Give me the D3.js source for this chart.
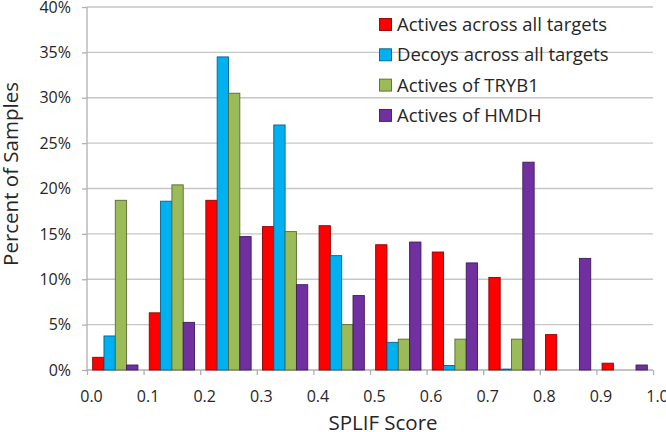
<!DOCTYPE html>
<html>
<head>
<meta charset="utf-8">
<script src="https://cdn.jsdelivr.net/npm/d3@7"></script>
<style>
    body { margin: 0; background: #fff; }
    svg { display: block; font-family: "Open Sans", sans-serif; }
</style>
</head>
<body>
<div id="chart"></div>
<script>
// bins (lower edge of each SPLIF score bin)
const bins = [0.0, 0.1, 0.2, 0.3, 0.4, 0.5, 0.6, 0.7, 0.8, 0.9];
const seriesNames = ["Actives across all targets", "Decoys across all targets", "Actives of TRYB1", "Actives of HMDH"];
const seriesColors = ["#FF0000", "#00B0F0", "#9BBB59", "#7030A0"];

// percent of samples per bin
const activesAll = [1.4, 6.3, 18.7, 15.8, 15.9, 13.8, 13.0, 10.2, 3.9, 0.75];
const decoysAll  = [3.75, 18.6, 34.5, 27.0, 12.6, 3.05, 0.5, 0.1, 0, 0];
const activesTRYB1 = [18.7, 20.4, 30.5, 15.25, 5.0, 3.4, 3.4, 3.4, 0, 0];
const activesHMDH  = [0.55, 5.25, 14.7, 9.4, 8.2, 14.1, 11.8, 22.9, 12.3, 0.55];

const xTicks = [0.0, 0.1, 0.2, 0.3, 0.4, 0.5, 0.6, 0.7, 0.8, 0.9, 1.0];
const yTicks = [0, 5, 10, 15, 20, 25, 30, 35, 40];

const seriesValues = [activesAll, decoysAll, activesTRYB1, activesHMDH];

let margin = { top: 7, right: 13, bottom: 62, left: 87 };
let width = 666 - margin.left - margin.right;
let height = 432 - margin.top - margin.bottom;

let svg = d3.select("#chart").append("svg")
    .attr("width", 666)
    .attr("height", 432)
    .append("g")
    .attr("transform", "translate(" + margin.left + "," + margin.top + ")");

// scales
let x = d3.scaleLinear().domain([0, 1]).range([0, width]);
let xBin = d3.scaleBand().domain(bins.map((d, i) => i)).range([0, width])
    .paddingInner(0.2).paddingOuter(0.1);
let xSeries = d3.scaleBand().domain(seriesNames.map((d, i) => i)).range([0, xBin.bandwidth()]);
let y = d3.scaleLinear().domain([0, 40]).range([height, 0]);

// gridlines
svg.append("g")
    .selectAll("line")
    .data(yTicks.slice(1))
    .enter().append("line")
    .attr("x1", 0).attr("x2", width)
    .attr("y1", d => y(d)).attr("y2", d => y(d))
    .style("stroke", "#c6c6c6")
    .style("stroke-width", "1.3px");

// y axis
let yAxis = svg.append("g")
    .call(d3.axisLeft(y).tickValues(yTicks).tickSize(5).tickPadding(11).tickFormat(d => d + "%"));
// x axis
let xAxis = svg.append("g")
    .attr("transform", "translate(0," + height + ")")
    .call(d3.axisBottom(x).tickValues(xTicks).tickSize(5).tickPadding(16).tickFormat(d3.format(".1f")));

svg.selectAll(".domain, .tick line")
    .style("stroke", "#b0b0b0")
    .style("stroke-width", "1.3px");
yAxis.select(".domain").attr("d", "M0," + height + "V0");
xAxis.select(".domain").attr("d", "M0,0H" + width);

svg.selectAll(".tick text")
    .style("font-size", "16px")
    .style("fill", "#262626")
    .style("font-family", "'Open Sans', sans-serif");
xAxis.selectAll(".tick text").attr("dx", 4);

// bars
let rows = [];
seriesValues.forEach((vals, s) => {
    vals.forEach((v, b) => { if (v > 0) rows.push({ s: s, b: b, v: v }); });
});

svg.append("g")
    .selectAll("rect")
    .data(rows)
    .enter().append("rect")
    .attr("x", d => xBin(d.b) + xSeries(d.s))
    .attr("width", xSeries.bandwidth())
    .attr("y", d => y(d.v))
    .attr("height", d => y(0) - y(d.v))
    .style("fill", d => seriesColors[d.s])
    .style("stroke", d => d3.color(seriesColors[d.s]).darker(1.6))
    .style("stroke-width", "0.9px");

// axis titles
svg.append("text")
    .attr("x", 296)
    .attr("y", height + 60)
    .attr("text-anchor", "middle")
    .style("font-size", "20.5px")
    .style("fill", "#262626")
    .text("SPLIF Score");

svg.append("text")
    .attr("transform", "translate(" + (18 - margin.left) + "," + (174 - margin.top) + ") rotate(-90)")
    .attr("text-anchor", "middle")
    .style("font-size", "20.5px")
    .style("fill", "#262626")
    .text("Percent of Samples");

// legend
let legend = svg.append("g")
    .attr("transform", "translate(" + (379 - margin.left) + "," + (31 - margin.top) + ")");

let items = legend.selectAll("g")
    .data(seriesNames)
    .enter().append("g")
    .attr("transform", (d, i) => "translate(0," + (i * 30.3) + ")");

items.append("rect")
    .attr("x", 0.5).attr("y", -12.5)
    .attr("width", 12).attr("height", 12)
    .style("fill", (d, i) => seriesColors[i])
    .style("stroke", (d, i) => d3.color(seriesColors[i]).darker(1.6))
    .style("stroke-width", "0.9px");

items.append("text")
    .attr("x", 18)
    .attr("y", 0)
    .style("font-size", "18.5px")
    .style("fill", "#262626")
    .text(d => d);
</script>
</body>
</html>
